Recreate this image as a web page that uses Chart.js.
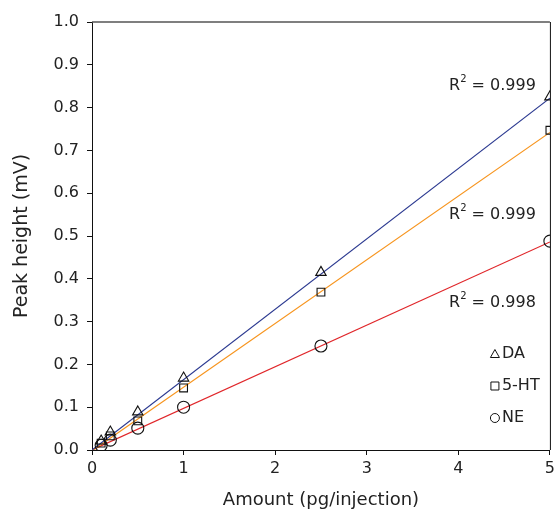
<!DOCTYPE html>
<html><head><meta charset="utf-8">
<script src="https://cdn.jsdelivr.net/npm/chart.js@4"></script>
<style>html,body{margin:0;padding:0;background:#fff}#wrap{width:559px;height:511px}</style>
</head><body><div id="wrap"><canvas id="c" width="559" height="511"></canvas></div>
<script>
const amounts = [0.1, 0.2, 0.5, 1, 2.5, 5];
const daValues = [0.021, 0.042, 0.089, 0.168, 0.415, 0.825];
const htValues = [0.016, 0.033, 0.068, 0.145, 0.369, 0.747];
const neValues = [0.011, 0.023, 0.051, 0.100, 0.243, 0.488];
const fitX = [0, 5];
const daFit = [0.0, 0.822];
const htFit = [-0.002, 0.742];
const neFit = [0.0, 0.486];
const seriesNames = ['DA', '5-HT', 'NE'];
const r2Labels = ['R\u00b2 = 0.999', 'R\u00b2 = 0.999', 'R\u00b2 = 0.998'];
const r2LabelY = [0.85, 0.549, 0.343];
const yTicks = [0,0.1,0.2,0.3,0.4,0.5,0.6,0.7,0.8,0.9,1.0];
const xTicks = [0,1,2,3,4,5];

const FONT = '"DejaVu Sans", sans-serif';
const pts = (xs, ys) => xs.map((x,i)=>({x, y: ys[i]}));
const lineColors = ['#2b3990', '#f7941d', '#e0262a'];
const styles = ['triangle', 'rect', 'circle'];

const datasets = [];
[daFit, htFit, neFit].forEach((f,i)=>{
  datasets.push({label: seriesNames[i]+' fit', data: pts(fitX, f), type:'line', borderColor: lineColors[i], borderWidth: 1.2, pointRadius: 0, fill:false, order: 2});
});
[daValues, htValues, neValues].forEach((v,i)=>{
  datasets.push({label: seriesNames[i], data: pts(amounts, v), type:'line', showLine:false, pointStyle: styles[i], pointRadius: i===1?5.5:6, borderColor:'#111', borderWidth:1.1, backgroundColor:'rgba(255,255,255,0)', order: 1});
});

const decor = {
  id:'decor',
  afterDraw(chart){
    const {ctx, chartArea:a, scales:{x,y}} = chart;
    ctx.save();
    ctx.strokeStyle = '#555'; ctx.lineWidth = 1.5;
    ctx.beginPath(); ctx.moveTo(a.left, a.top); ctx.lineTo(a.right, a.top); ctx.stroke();
    ctx.strokeStyle = '#111'; ctx.lineWidth = 1;
    ctx.beginPath(); ctx.moveTo(a.right+0.5, a.top); ctx.lineTo(a.right+0.5, a.bottom); ctx.stroke();
    // R2 labels
    ctx.fillStyle = '#222'; ctx.textAlign='right'; ctx.textBaseline='middle';
    r2Labels.forEach((t,i)=>{
      const yy = y.getPixelForValue(r2LabelY[i]);
      const xr = x.getPixelForValue(5) - 14;
      const rest = t.slice(2);
      ctx.font = '16px '+FONT;
      const wRest = ctx.measureText(rest).width;
      ctx.fillText(rest, xr, yy);
      ctx.font = '10px '+FONT;
      ctx.fillText('2', xr - wRest, yy - 7);
      const w2 = ctx.measureText('2').width;
      ctx.font = '16px '+FONT;
      ctx.fillText('R', xr - wRest - w2, yy);
    });
    // legend
    const lx = a.right - 55;
    const ly0 = a.bottom - 96;
    const gap = 32;
    seriesNames.forEach((n,i)=>{
      const cy = ly0 + i*gap;
      ctx.strokeStyle='#111'; ctx.lineWidth=1;
      ctx.beginPath();
      if (i===0){ ctx.moveTo(lx, cy-4.5); ctx.lineTo(lx+4.5, cy+3.5); ctx.lineTo(lx-4.5, cy+3.5); ctx.closePath(); }
      else if (i===1){ ctx.rect(lx-4, cy-4, 8, 8); }
      else { ctx.arc(lx, cy, 4.5, 0, Math.PI*2); }
      ctx.stroke();
      ctx.fillStyle='#222'; ctx.font='16px '+FONT; ctx.textAlign='left'; ctx.textBaseline='middle';
      ctx.fillText(n, lx+7, cy);
    });
    ctx.restore();
  }
};

new Chart(document.getElementById('c'), {
  type:'scatter',
  data:{datasets},
  options:{
    responsive:false, animation:false,
    layout:{padding:{top:22, right:4, left:11, bottom:0}},
    plugins:{legend:{display:false}, tooltip:{enabled:false}},
    scales:{
      x:{type:'linear', min:0, max:5,
        afterBuildTicks(s){ s.ticks = xTicks.map(v=>({value:v})); },
        afterFit(s){ s.height = 61; },
        grid:{display:true, drawOnChartArea:false, drawTicks:true, tickLength:5, tickColor:'#111', lineWidth:1},
        border:{display:true, color:'#111', width:1},
        ticks:{color:'#222', font:{family:FONT, size:16}, padding:4, maxRotation:0, callback:v=>String(v)},
        title:{display:true, text:'Amount (pg/injection)', color:'#222', font:{family:FONT, size:18}, padding:{top:15, bottom:0}}
      },
      y:{type:'linear', min:0, max:1,
        afterBuildTicks(s){ s.ticks = yTicks.map(v=>({value:v})); },
        afterFit(s){ s.width = 81; },
        grid:{display:true, drawOnChartArea:false, drawTicks:true, tickLength:5, tickColor:'#111', lineWidth:1},
        border:{display:true, color:'#111', width:1},
        ticks:{color:'#222', font:{family:FONT, size:16}, padding:8, callback:v=>v.toFixed(1)},
        title:{display:true, text:'Peak height (mV)', color:'#222', font:{family:FONT, size:19}, padding:{top:0, bottom:4}}
      }
    }
  },
  plugins:[decor]
});
</script></body></html>
